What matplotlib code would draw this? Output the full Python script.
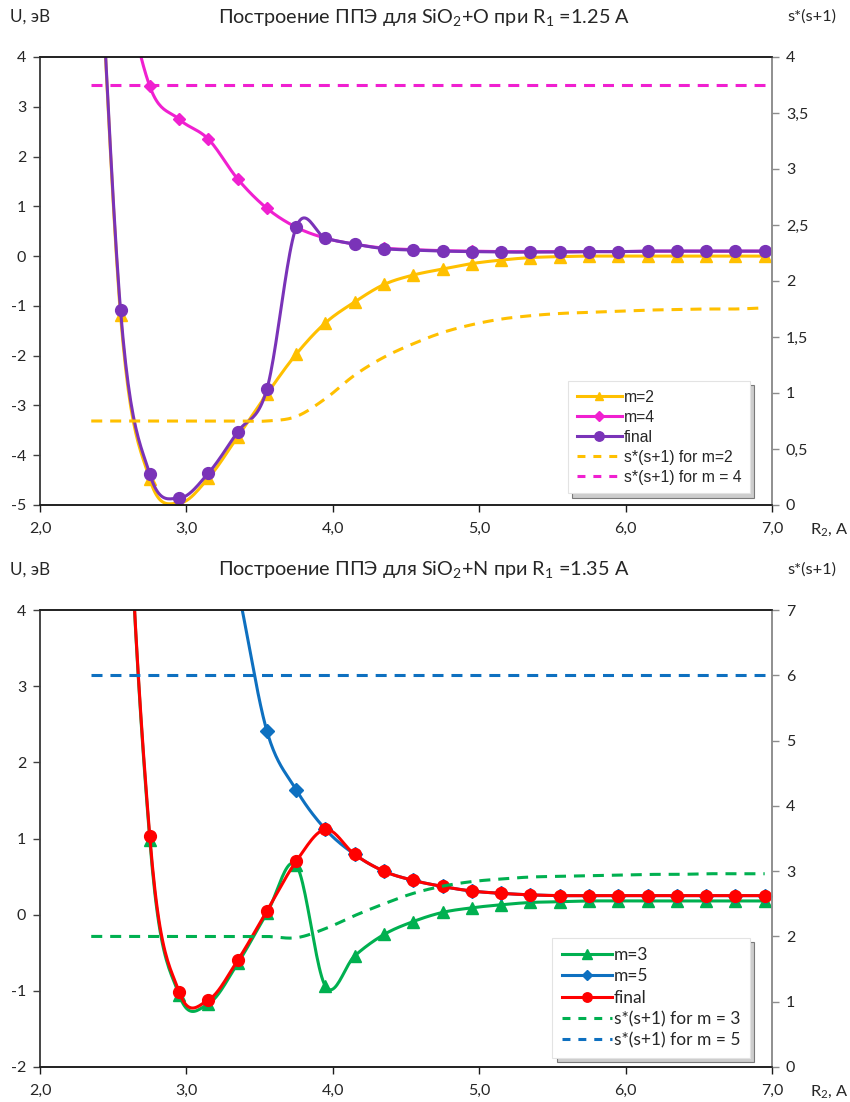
import numpy as np
import matplotlib
matplotlib.use("Agg")
import matplotlib.pyplot as plt

plt.rcParams['font.family'] = ['Lato', 'DejaVu Sans']
plt.rcParams['mathtext.fontset'] = 'custom'
plt.rcParams['mathtext.rm'] = 'Lato'

# ---------------- data ----------------
r2 = [2.35, 2.55, 2.75, 2.95, 3.15, 3.35, 3.55, 3.75, 3.95, 4.15, 4.35, 4.55,
      4.75, 4.95, 5.15, 5.35, 5.55, 5.75, 5.95, 6.15, 6.35, 6.55, 6.75, 6.95]

# top chart: SiO2 + O
top_m2 = [10.0, -1.18, -4.48, -4.96, -4.46, -3.63, -2.77, -1.97, -1.34, -0.92, -0.57, -0.38,
          -0.26, -0.15, -0.08, -0.03, -0.01, 0.0, 0.0, 0.0, 0.0, 0.0, 0.0, 0.0]
top_m4 = [10.0, 6.0, 3.41, 2.75, 2.35, 1.55, 0.96, 0.58, 0.36, 0.24, 0.16, 0.13,
          0.11, 0.10, 0.09, 0.09, 0.09, 0.09, 0.09, 0.10, 0.10, 0.10, 0.10, 0.10]
top_final = [10.0, -1.08, -4.38, -4.86, -4.36, -3.53, -2.67, 0.58, 0.36, 0.24, 0.15, 0.12,
             0.10, 0.09, 0.08, 0.08, 0.08, 0.09, 0.09, 0.10, 0.10, 0.10, 0.10, 0.10]
top_s_m2 = [0.75, 0.75, 0.75, 0.75, 0.75, 0.75, 0.75, 0.79, 0.95, 1.16, 1.32, 1.44,
            1.54, 1.61, 1.66, 1.69, 1.71, 1.72, 1.73, 1.74, 1.745, 1.75, 1.75, 1.76]
top_s_m4 = [3.75] * 24

# bottom chart: SiO2 + N
bot_m3 = [25.0, 8.5, 0.98, -1.05, -1.17, -0.64, 0.02, 0.65, -0.94, -0.54, -0.26, -0.09,
          0.03, 0.09, 0.13, 0.16, 0.17, 0.18, 0.18, 0.18, 0.18, 0.18, 0.18, 0.18]
bot_m5 = [20.0, 14.0, 10.0, 7.5, 6.0, 4.3, 2.41, 1.64, 1.12, 0.79, 0.57, 0.45,
          0.37, 0.31, 0.28, 0.26, 0.25, 0.25, 0.25, 0.25, 0.25, 0.25, 0.25, 0.25]
bot_final = [25.0, 8.5, 1.03, -1.01, -1.12, -0.60, 0.05, 0.70, 1.12, 0.79, 0.57, 0.45,
             0.37, 0.31, 0.28, 0.26, 0.25, 0.25, 0.25, 0.25, 0.25, 0.25, 0.25, 0.25]
bot_s_m3 = [2.0, 2.0, 2.0, 2.0, 2.0, 2.0, 2.0, 1.98, 2.12, 2.32, 2.50, 2.66,
            2.77, 2.84, 2.88, 2.91, 2.92, 2.93, 2.94, 2.95, 2.95, 2.96, 2.96, 2.96]
bot_s_m5 = [6.0] * 24

x_ticks = [2, 3, 4, 5, 6, 7]
x_labels = ["2,0", "3,0", "4,0", "5,0", "6,0", "7,0"]
top_left_ticks = [4, 3, 2, 1, 0, -1, -2, -3, -4, -5]
top_left_labels = ["4", "3", "2", "1", "0", "-1", "-2", "-3", "-4", "-5"]
top_right_ticks = [4, 3.5, 3, 2.5, 2, 1.5, 1, 0.5, 0]
top_right_labels = ["4", "3,5", "3", "2,5", "2", "1,5", "1", "0,5", "0"]
bot_left_ticks = [4, 3, 2, 1, 0, -1, -2]
bot_left_labels = ["4", "3", "2", "1", "0", "-1", "-2"]
bot_right_ticks = [7, 6, 5, 4, 3, 2, 1, 0]
bot_right_labels = ["7", "6", "5", "4", "3", "2", "1", "0"]

top_names = ["m=2", "m=4", "final", "s*(s+1) for m=2", "s*(s+1) for m = 4"]
bot_names = ["m=3", "m=5", "final", "s*(s+1) for m = 3", "s*(s+1) for m = 5"]

# ---------------- helpers ----------------
def smooth(x, y, n=24):
    """Excel-like smoothed line (Catmull-Rom Bezier) through the points."""
    P = np.column_stack([np.asarray(x, float), np.asarray(y, float)])
    Pe = np.vstack([P[0], P, P[-1]])
    t = np.linspace(0, 1, n)[:, None]
    out = []
    for i in range(len(P) - 1):
        p0, p1, p2, p3 = Pe[i], Pe[i + 1], Pe[i + 2], Pe[i + 3]
        c1 = p1 + (p2 - p0) / 6.0
        c2 = p2 - (p3 - p1) / 6.0
        seg = (1 - t) ** 3 * p1 + 3 * (1 - t) ** 2 * t * c1 + 3 * (1 - t) * t ** 2 * c2 + t ** 3 * p2
        out.append(seg if i == 0 else seg[1:])
    s = np.vstack(out)
    return s[:, 0], s[:, 1]

W, H = 850, 1102
fig = plt.figure(figsize=(W / 100, H / 100), dpi=100)

def fx(px):
    return px / W

def fy(py):
    return 1 - py / H

LW = 2.2
TXT = '#262626'

def series(ax, y, color, marker, ms, label):
    sx, sy = smooth(r2, y)
    ax.plot(sx, sy, color=color, lw=LW, solid_capstyle='round', clip_on=True)
    ax.plot(r2, y, linestyle='none', marker=marker, ms=ms, color=color,
            markeredgecolor=color, clip_on=True)
    return plt.Line2D([], [], color=color, lw=LW, marker=marker, ms=ms * 0.8, label=label)

def dashed(ax, y, color, label):
    sx, sy = smooth(r2, y)
    ax.plot(sx, sy, color=color, lw=LW, dashes=(3.6, 2.6), clip_on=True)
    return plt.Line2D([], [], color=color, lw=LW, dashes=(2.6, 2.6), label=label)

def panel(top_px, bot_px, lticks, llabels, ylim, rticks, rlabels, rlim,
          sol, dsh, title, leg_font, leg_size, leg_spacing, leg_anchor):
    ax = fig.add_axes([fx(40), fy(bot_px), fx(772 - 40), (bot_px - top_px) / H])
    ax.set_xlim(2, 7)
    ax.set_ylim(*ylim)
    ax.set_xticks(x_ticks)
    ax.set_xticklabels(x_labels)
    ax.set_yticks(lticks)
    ax.set_yticklabels(llabels)
    ax2 = ax.twinx()
    ax2.set_ylim(*rlim)
    ax2.set_yticks(rticks)
    ax2.set_yticklabels(rlabels)
    handles = []
    for (y, c, m, ms, lab) in sol:
        handles.append(series(ax, y, c, m, ms, lab))
    for (y, c, lab) in dsh:
        handles.append(dashed(ax2, y, c, lab))
    for a in (ax, ax2):
        for side in ('left', 'right', 'top', 'bottom'):
            a.spines[side].set_linewidth(1.1)
        a.spines['top'].set_color('#1a1a1a')
        a.spines['bottom'].set_color('#1a1a1a')
        a.spines['left'].set_color('#404040')
        a.spines['right'].set_color('#8c8c8c')
    ax.tick_params(axis='both', direction='out', length=5, width=1, colors='#404040',
                   labelcolor=TXT, labelsize=11.5)
    ax.tick_params(axis='x', pad=7, colors='#1a1a1a', labelcolor=TXT)
    ax.tick_params(axis='y', pad=5)
    ax2.tick_params(axis='y', direction='out', length=5, width=1, colors='#8c8c8c',
                    labelcolor=TXT, labelsize=11.5, pad=5)
    leg = ax2.legend(handles=handles, loc='lower right', bbox_to_anchor=leg_anchor,
                     frameon=True, fancybox=False,
                     shadow={'ox': 3, 'oy': -3, 'facecolor': '#b8b8b8', 'alpha': 0.7},
                     borderaxespad=0, handlelength=2.9, handletextpad=0.1,
                     labelspacing=leg_spacing, borderpad=0.55,
                     prop={'family': leg_font, 'size': leg_size})
    leg.get_frame().set_edgecolor('#e3e3e3')
    leg.get_frame().set_linewidth(0.8)
    for t in leg.get_texts():
        t.set_color(TXT)
    fig.text(fx(424), fy(top_px - 40), title, ha='center', va='center', fontsize=14.3, color=TXT)
    fig.text(fx(10), fy(top_px - 40), "U, эВ", ha='left', va='center', fontsize=12.3, color=TXT)
    fig.text(fx(836), fy(top_px - 40), "s*(s+1)", ha='right', va='center', fontsize=11.8, color=TXT)
    fig.text(fx(810), fy(bot_px + 25), r"R$\mathregular{_2}$, А", ha='left', va='center',
             fontsize=11.8, color=TXT)
    return ax, ax2

YEL, MAG, PUR = '#FFC000', '#F020D0', '#7A33B8'
GRN, BLU, RED = '#00B050', '#0E70C0', '#FF0000'

panel(57, 505, top_left_ticks, top_left_labels, (-5, 4), top_right_ticks, top_right_labels, (0, 4),
      [(top_m2, YEL, '^', 8, top_names[0]),
       (top_m4, MAG, 'D', 6.5, top_names[1]),
       (top_final, PUR, 'o', 8.5, top_names[2])],
      [(top_s_m2, YEL, top_names[3]), (top_s_m4, MAG, top_names[4])],
      r"Построение ППЭ для SiO$\mathregular{_2}$+O при R$\mathregular{_1}$ =1.25 А",
      ['Liberation Sans', 'DejaVu Sans'], 11.3, 0.32, (0.97, 0.026))

panel(610, 1067, bot_left_ticks, bot_left_labels, (-2, 4), bot_right_ticks, bot_right_labels, (0, 7),
      [(bot_m3, GRN, '^', 8.5, bot_names[0]),
       (bot_m5, BLU, 'D', 7, bot_names[1]),
       (bot_final, RED, 'o', 8.5, bot_names[2])],
      [(bot_s_m3, GRN, bot_names[3]), (bot_s_m5, BLU, bot_names[4])],
      r"Построение ППЭ для SiO$\mathregular{_2}$+N при R$\mathregular{_1}$ =1.35 А",
      ['Lato', 'DejaVu Sans'], 12.5, 0.3, (0.97, 0.02))

fig.savefig("out.png", dpi=100, facecolor='white')
